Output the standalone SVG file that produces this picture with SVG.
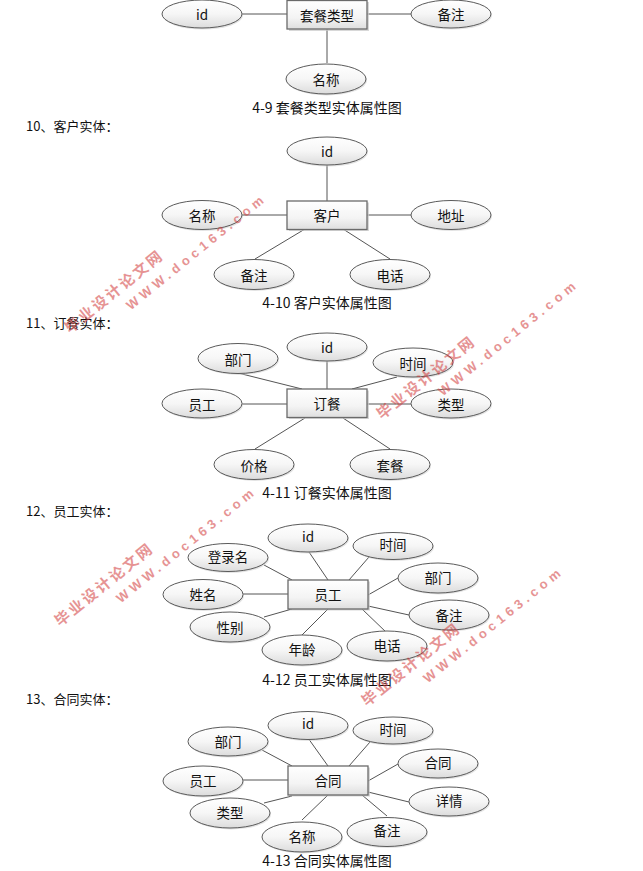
<svg xmlns="http://www.w3.org/2000/svg" width="643" height="871" viewBox="0 0 643 871">
<defs>
<linearGradient id="gE" x1="0" y1="0" x2="0" y2="1"><stop offset="0" stop-color="#ffffff"/><stop offset="0.5" stop-color="#f6f6f6"/><stop offset="1" stop-color="#dcdcdc"/></linearGradient>
<linearGradient id="gR" x1="0" y1="0" x2="0" y2="1"><stop offset="0" stop-color="#ffffff"/><stop offset="0.6" stop-color="#f4f4f4"/><stop offset="1" stop-color="#dedede"/></linearGradient>
<style>
.e{fill:url(#gE);stroke:#5a5a5a;stroke-width:1}
.es{fill:#d0d0d0;opacity:0.6}
.r{fill:url(#gR);stroke:#6a6a6a;stroke-width:1.3}
.rs{fill:#c8c8c8;opacity:0.7}
.t{font-family:"Noto Sans CJK SC","Liberation Sans",sans-serif;font-size:13.5px;fill:#111;text-anchor:middle;dominant-baseline:central}
.cap{font-family:"Noto Sans CJK SC","Liberation Sans",sans-serif;font-size:14px;fill:#111;text-anchor:middle;dominant-baseline:central}
.h{font-family:"Noto Sans CJK SC","Liberation Sans",sans-serif;font-size:13px;fill:#111;dominant-baseline:central}
.c line{stroke:#555;stroke-width:1}
.w1{font-family:"Noto Sans CJK SC",sans-serif;font-size:15px;font-weight:bold;fill:#d23c3c;opacity:0.55}
.w2{font-family:"Liberation Sans",sans-serif;font-size:13px;font-weight:bold;fill:#d23c3c;opacity:0.55}
</style>
</defs>
<rect width="643" height="871" fill="#ffffff"/>

<!-- Section 1 -->
<g class="c" id="conn1">
<line x1="242" y1="14" x2="287" y2="14"/>
<line x1="367" y1="14" x2="411" y2="14"/>
<line x1="327" y1="29" x2="327" y2="63"/>
</g>
<g id="n1_main"><rect class="rs" x="289" y="2" width="80" height="29"/><rect class="r" x="287" y="0.5" width="80" height="28.5"/><text class="t" x="327" y="15">套餐类型</text></g>
<g id="n1_id"><ellipse class="es" cx="203" cy="15.5" rx="40" ry="14"/><ellipse class="e" cx="202" cy="14" rx="40" ry="14"/><text class="t" x="202" y="14">id</text></g>
<g id="n1_note"><ellipse class="es" cx="452" cy="15.5" rx="40" ry="14"/><ellipse class="e" cx="451" cy="14" rx="40" ry="14"/><text class="t" x="451" y="14">备注</text></g>
<g id="n1_name"><ellipse class="es" cx="327" cy="80.5" rx="40" ry="15"/><ellipse class="e" cx="326" cy="79" rx="40" ry="15"/><text class="t" x="326" y="79">名称</text></g>
<text class="cap" x="327" y="107">4-9 套餐类型实体属性图</text>

<!-- Section 2 -->
<text class="h" x="26" y="125">10、客户实体：</text>
<g class="c" id="conn2">
<line x1="327" y1="165" x2="327" y2="201"/>
<line x1="242" y1="215" x2="287" y2="215"/>
<line x1="367" y1="215" x2="411" y2="215"/>
<line x1="305" y1="229" x2="255" y2="259"/>
<line x1="343" y1="229" x2="390" y2="259"/>
</g>
<g id="n2_main"><rect class="rs" x="289" y="202.5" width="80" height="28.5"/><rect class="r" x="287" y="201" width="80" height="28.5"/><text class="t" x="327" y="215">客户</text></g>
<g id="n2_id"><ellipse class="es" cx="328" cy="152.5" rx="40" ry="14"/><ellipse class="e" cx="327" cy="151" rx="40" ry="14"/><text class="t" x="327" y="151">id</text></g>
<g id="n2_name"><ellipse class="es" cx="203" cy="216.5" rx="40" ry="14.5"/><ellipse class="e" cx="202" cy="215" rx="40" ry="14.5"/><text class="t" x="202" y="215">名称</text></g>
<g id="n2_addr"><ellipse class="es" cx="452" cy="216.5" rx="40" ry="14.5"/><ellipse class="e" cx="451" cy="215" rx="40" ry="14.5"/><text class="t" x="451" y="215">地址</text></g>
<g id="n2_note"><ellipse class="es" cx="255" cy="276" rx="40" ry="15"/><ellipse class="e" cx="254" cy="274.5" rx="40" ry="15"/><text class="t" x="254" y="274.5">备注</text></g>
<g id="n2_tel"><ellipse class="es" cx="391" cy="276" rx="40" ry="15"/><ellipse class="e" cx="390" cy="274.5" rx="40" ry="15"/><text class="t" x="390" y="274.5">电话</text></g>
<text class="cap" x="327" y="302">4-10 客户实体属性图</text>

<!-- Section 3 -->
<text class="h" x="26" y="322">11、订餐实体：</text>
<g class="c" id="conn3">
<line x1="238" y1="373" x2="302" y2="389"/>
<line x1="327" y1="361" x2="327" y2="389"/>
<line x1="397" y1="377" x2="352" y2="389"/>
<line x1="242" y1="404" x2="287" y2="404"/>
<line x1="367" y1="404" x2="411" y2="404"/>
<line x1="305" y1="418" x2="255" y2="449"/>
<line x1="343" y1="418" x2="390" y2="449"/>
</g>
<g id="n3_main"><rect class="rs" x="289" y="390.5" width="80" height="28.5"/><rect class="r" x="287" y="389" width="80" height="28.5"/><text class="t" x="327" y="403">订餐</text></g>
<g id="n3_id"><ellipse class="es" cx="328" cy="348.5" rx="40" ry="14"/><ellipse class="e" cx="327" cy="347" rx="40" ry="14"/><text class="t" x="327" y="347">id</text></g>
<g id="n3_dept"><ellipse class="es" cx="239" cy="360" rx="40" ry="15"/><ellipse class="e" cx="238" cy="358.5" rx="40" ry="15"/><text class="t" x="238" y="358.5">部门</text></g>
<g id="n3_time"><ellipse class="es" cx="414" cy="364" rx="40" ry="14.5"/><ellipse class="e" cx="413" cy="362.5" rx="40" ry="14.5"/><text class="t" x="413" y="362.5">时间</text></g>
<g id="n3_emp"><ellipse class="es" cx="203" cy="405" rx="40" ry="14.5"/><ellipse class="e" cx="202" cy="403.5" rx="40" ry="14.5"/><text class="t" x="202" y="403.5">员工</text></g>
<g id="n3_type"><ellipse class="es" cx="452" cy="405" rx="40" ry="14.5"/><ellipse class="e" cx="451" cy="403.5" rx="40" ry="14.5"/><text class="t" x="451" y="403.5">类型</text></g>
<g id="n3_price"><ellipse class="es" cx="255" cy="466" rx="40" ry="15"/><ellipse class="e" cx="254" cy="464.5" rx="40" ry="15"/><text class="t" x="254" y="464.5">价格</text></g>
<g id="n3_set"><ellipse class="es" cx="391" cy="466" rx="40" ry="15"/><ellipse class="e" cx="390" cy="464.5" rx="40" ry="15"/><text class="t" x="390" y="464.5">套餐</text></g>
<text class="cap" x="327" y="492">4-11 订餐实体属性图</text>

<!-- Section 4 -->
<text class="h" x="26" y="510">12、员工实体：</text>
<g class="c" id="conn4">
<line x1="264" y1="565" x2="292" y2="580"/>
<line x1="309" y1="552" x2="328" y2="580"/>
<line x1="369" y1="557" x2="349" y2="580"/>
<line x1="398" y1="578" x2="368" y2="595"/>
<line x1="243" y1="594" x2="288" y2="594"/>
<line x1="409" y1="615" x2="368" y2="606"/>
<line x1="264" y1="617" x2="292" y2="609"/>
<line x1="302" y1="635" x2="328" y2="609"/>
<line x1="387" y1="633" x2="362" y2="609"/>
</g>
<g id="n4_main"><rect class="rs" x="290" y="581.5" width="80" height="29"/><rect class="r" x="288" y="580" width="80" height="29"/><text class="t" x="328" y="594">员工</text></g>
<g id="n4_id"><ellipse class="es" cx="309" cy="539.5" rx="40" ry="14"/><ellipse class="e" cx="308" cy="538" rx="40" ry="14"/><text class="t" x="308" y="536">id</text></g>
<g id="n4_time"><ellipse class="es" cx="394" cy="547.5" rx="40" ry="13.5"/><ellipse class="e" cx="393" cy="546" rx="40" ry="13.5"/><text class="t" x="393" y="544">时间</text></g>
<g id="n4_login"><ellipse class="es" cx="229" cy="559" rx="40" ry="14"/><ellipse class="e" cx="228" cy="557.5" rx="40" ry="14"/><text class="t" x="228" y="556">登录名</text></g>
<g id="n4_dept"><ellipse class="es" cx="439" cy="579.5" rx="40" ry="15"/><ellipse class="e" cx="438" cy="578" rx="40" ry="15"/><text class="t" x="438" y="577">部门</text></g>
<g id="n4_name"><ellipse class="es" cx="204" cy="596" rx="40" ry="15"/><ellipse class="e" cx="203" cy="594.5" rx="40" ry="15"/><text class="t" x="203" y="594">姓名</text></g>
<g id="n4_note"><ellipse class="es" cx="450" cy="616.5" rx="40" ry="15"/><ellipse class="e" cx="449" cy="615" rx="40" ry="15"/><text class="t" x="449" y="615">备注</text></g>
<g id="n4_sex"><ellipse class="es" cx="231" cy="628.5" rx="40" ry="15"/><ellipse class="e" cx="230" cy="627" rx="40" ry="15"/><text class="t" x="230" y="627">性别</text></g>
<g id="n4_tel"><ellipse class="es" cx="388" cy="647.5" rx="40" ry="15"/><ellipse class="e" cx="387" cy="646" rx="40" ry="15"/><text class="t" x="387" y="645">电话</text></g>
<g id="n4_age"><ellipse class="es" cx="303" cy="651.5" rx="40" ry="15"/><ellipse class="e" cx="302" cy="650" rx="40" ry="15"/><text class="t" x="302" y="649">年龄</text></g>
<text class="cap" x="327" y="679">4-12 员工实体属性图</text>

<!-- Section 5 -->
<text class="h" x="26" y="698">13、合同实体：</text>
<g class="c" id="conn5">
<line x1="262" y1="750" x2="292" y2="766"/>
<line x1="308" y1="738" x2="328" y2="766"/>
<line x1="370" y1="742" x2="349" y2="766"/>
<line x1="398" y1="764" x2="368" y2="781"/>
<line x1="243" y1="780" x2="288" y2="780"/>
<line x1="409" y1="802" x2="368" y2="792"/>
<line x1="264" y1="803" x2="292" y2="796"/>
<line x1="302" y1="820" x2="328" y2="795"/>
<line x1="387" y1="816" x2="362" y2="795"/>
</g>
<g id="n5_main"><rect class="rs" x="290" y="767.5" width="80" height="29"/><rect class="r" x="288" y="766" width="80" height="29"/><text class="t" x="328" y="780">合同</text></g>
<g id="n5_id"><ellipse class="es" cx="309" cy="727" rx="40" ry="14"/><ellipse class="e" cx="308" cy="725.5" rx="40" ry="14"/><text class="t" x="308" y="723">id</text></g>
<g id="n5_time"><ellipse class="es" cx="394" cy="732" rx="40" ry="13.5"/><ellipse class="e" cx="393" cy="730.5" rx="40" ry="13.5"/><text class="t" x="393" y="729">时间</text></g>
<g id="n5_dept"><ellipse class="es" cx="229" cy="743" rx="40" ry="14.5"/><ellipse class="e" cx="228" cy="741.5" rx="40" ry="14.5"/><text class="t" x="228" y="741">部门</text></g>
<g id="n5_contract"><ellipse class="es" cx="439" cy="765" rx="40" ry="14.5"/><ellipse class="e" cx="438" cy="763.5" rx="40" ry="14.5"/><text class="t" x="438" y="762">合同</text></g>
<g id="n5_emp"><ellipse class="es" cx="204" cy="782.5" rx="40" ry="15"/><ellipse class="e" cx="203" cy="781" rx="40" ry="15"/><text class="t" x="203" y="780">员工</text></g>
<g id="n5_detail"><ellipse class="es" cx="450" cy="803" rx="40" ry="14.5"/><ellipse class="e" cx="449" cy="801.5" rx="40" ry="14.5"/><text class="t" x="449" y="800">详情</text></g>
<g id="n5_type"><ellipse class="es" cx="231" cy="814.5" rx="40" ry="15"/><ellipse class="e" cx="230" cy="813" rx="40" ry="15"/><text class="t" x="230" y="812">类型</text></g>
<g id="n5_note"><ellipse class="es" cx="388" cy="833.5" rx="40" ry="14.5"/><ellipse class="e" cx="387" cy="832" rx="40" ry="14.5"/><text class="t" x="387" y="830">备注</text></g>
<g id="n5_name"><ellipse class="es" cx="303" cy="838.5" rx="40" ry="15"/><ellipse class="e" cx="302" cy="837" rx="40" ry="15"/><text class="t" x="302" y="836">名称</text></g>
<text class="cap" x="327" y="860">4-13 合同实体属性图</text>

<!-- Watermarks -->
<g id="watermarks">
<g transform="translate(70,334) rotate(-39)"><text class="w1" x="0" y="0" textLength="120" lengthAdjust="spacing">毕业设计论文网</text><text class="w2" x="62" y="20" textLength="172" lengthAdjust="spacing">WWW.doc163.com</text></g>
<g transform="translate(382,420) rotate(-39)"><text class="w1" x="0" y="0" textLength="120" lengthAdjust="spacing">毕业设计论文网</text><text class="w2" x="62" y="20" textLength="172" lengthAdjust="spacing">WWW.doc163.com</text></g>
<g transform="translate(60,627) rotate(-39)"><text class="w1" x="0" y="0" textLength="120" lengthAdjust="spacing">毕业设计论文网</text><text class="w2" x="62" y="20" textLength="172" lengthAdjust="spacing">WWW.doc163.com</text></g>
<g transform="translate(367,707) rotate(-39)"><text class="w1" x="0" y="0" textLength="120" lengthAdjust="spacing">毕业设计论文网</text><text class="w2" x="62" y="20" textLength="172" lengthAdjust="spacing">WWW.doc163.com</text></g>
</g>
</svg>
